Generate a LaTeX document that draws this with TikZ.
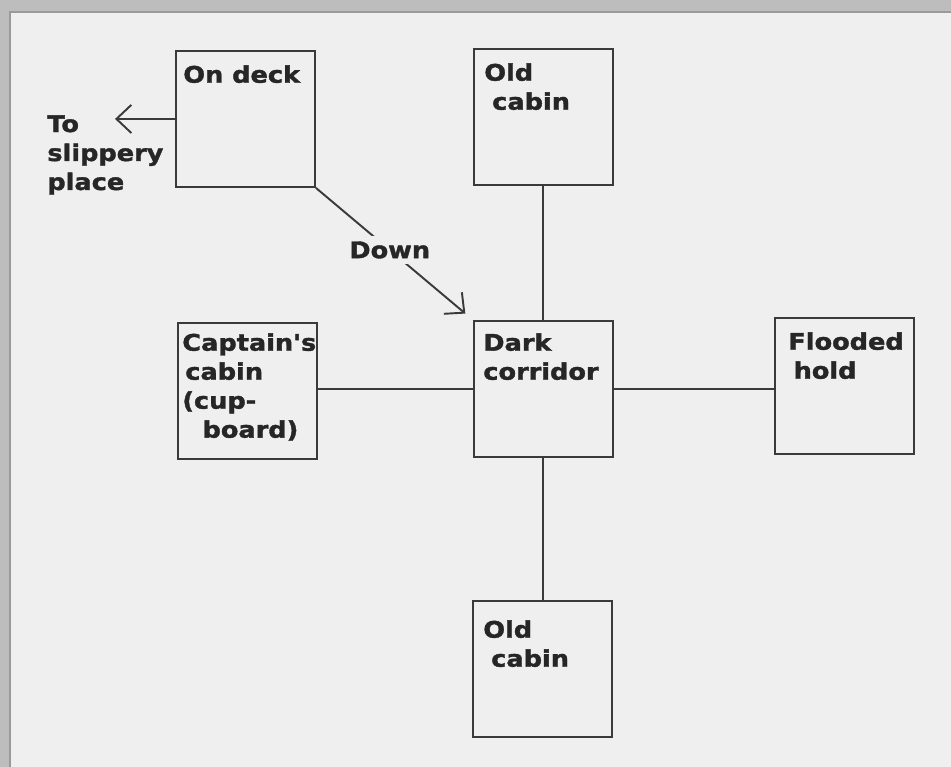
\documentclass[tikz,border=0pt]{standalone}
\usepackage{fontspec}
\newfontfamily\lblfont{DejaVu Sans}[FakeStretch=1.12, FakeBold=1.6]
\usetikzlibrary{arrows.meta}
\definecolor{bgin}{HTML}{EFEFEF}
\definecolor{bgout}{HTML}{BDBDBD}
\definecolor{frameln}{HTML}{9A9A9A}
\definecolor{ink}{HTML}{3A3A3A}
\definecolor{txt}{HTML}{262626}
\tikzset{
  roombox/.style={draw=ink, line width=1.1pt, minimum width=2.78cm, minimum height=2.72cm, inner sep=0pt, anchor=north west},
  lbl/.style={font=\lblfont\bfseries\fontsize{13}{16.5}\selectfont, text=txt, align=left, inner sep=0pt, anchor=north west},
  conn/.style={draw=ink, line width=1.1pt},
  barb/.style={-{Straight Barb[length=8.5pt,width=16pt,line width=1.1pt]}},
}
\begin{document}
\begin{tikzpicture}[x=0.02cm, y=-0.02cm]
\useasboundingbox (0,0) rectangle (951,767);
\fill[bgout] (0,0) rectangle (951,767);
\fill[bgin] (10,12) rectangle (951,767);
\draw[frameln, line width=1pt] (10,767) -- (10,12) -- (951,12);

% rooms
\node[roombox] (deck) at (175,50) {};
\node[roombox] (oldtop) at (473,48) {};
\node[roombox] (dark) at (473,320) {};
\node[roombox] (capt) at (177,322) {};
\node[roombox] (flood) at (774,317) {};
\node[roombox] (oldbot) at (472,600) {};

% labels
\node[lbl] (tdeck) at (183,65) {On deck};
\node[lbl] (toldtop) at (484,63) {Old\\\hspace{4.5pt}cabin};
\node[lbl] (tdark) at (483,333) {Dark\\corridor};
\node[lbl] (tcapt) at (182,333) {Captain's\\\hspace{1.7pt}cabin\\(cup-\\\hspace{11.5pt}board)};
\node[lbl] (tflood) at (788,332) {Flooded\\\hspace{3pt}hold};
\node[lbl] (toldbot) at (483,620) {Old\\\hspace{4.5pt}cabin};
\node[lbl] (tslip) at (47,115) {To\\slippery\\place};

% connectors
\coordinate (slipend) at (115,117);
\draw[conn, barb] (deck.west) -- (deck.west -| slipend);
\draw[conn, barb, shorten >=0.2cm] (deck.south east) -- node[pos=0.47, fill=bgin, inner sep=3pt, font=\lblfont\bfseries\fontsize{13}{16.5}\selectfont, text=txt] (down) {Down} (dark.north west);
\draw[conn] (oldtop.south) -- (dark.north);
\draw[conn] (dark.west) -- (dark.west -| capt.east);
\draw[conn] (dark.east) -- (dark.east -| flood.west);
\draw[conn] (dark.south) -- (dark.south |- oldbot.north);
\end{tikzpicture}
\end{document}
